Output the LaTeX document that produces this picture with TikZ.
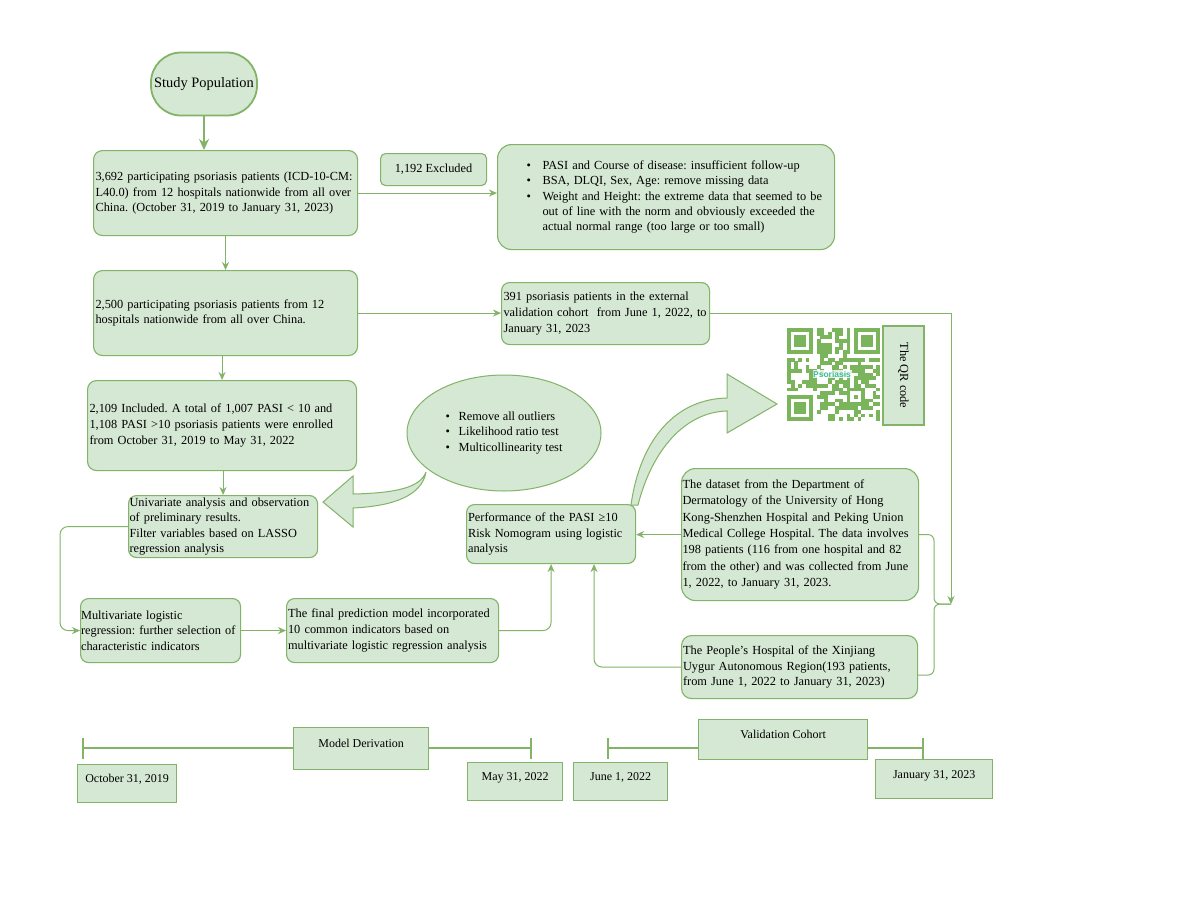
\documentclass[tikz,border=0pt]{standalone}
\usepackage{fontspec}
\setmainfont{Liberation Serif}
\newfontfamily\qrfont{Liberation Sans}
\usetikzlibrary{arrows.meta,shapes.geometric,calc}
\definecolor{gfill}{HTML}{D5E8D4}
\definecolor{gline}{HTML}{82B366}
\definecolor{qrgreen}{HTML}{7AB55C}
\definecolor{psorcol}{HTML}{3DBA98}
\frenchspacing
\newcommand{\bul}{\hspace*{27pt}\makebox[16pt][l]{\textbullet}}
\begin{document}
\begin{tikzpicture}[x=1pt,y=-1pt,
  every node/.style={font=\fontsize{12.35}{15.7}\selectfont},
  box/.style={draw=gline, fill=gfill, line width=1.1pt, rounded corners=9pt, anchor=north west, align=left, inner xsep=2pt, inner ysep=0pt},
  tbox/.style={draw=gline, fill=gfill, line width=1.3pt, anchor=north west, inner sep=0pt, align=center, text height=9pt, text depth=11pt, font=\fontsize{12}{14}\selectfont},
  conn/.style={draw=gline, line width=1pt, -{Stealth[length=8pt,width=7pt]}},
  line/.style={draw=gline, line width=1pt},
  bigarrow/.style={draw=gline, fill=gfill, line width=1pt, line join=miter},
]
\fill[white] (0,0) rectangle (1182,911);
\useasboundingbox (0,0) rectangle (1182,911);

% Study population
\node[draw=gline, fill=gfill, line width=1.8pt, rounded corners=30pt, minimum width=106pt, minimum height=63pt, inner sep=0pt, font=\fontsize{14.4}{16}\selectfont] (sp) at (204,84) {Study Population};

% boxes
\node[box, minimum width=264pt, minimum height=85pt, text width=260pt] (b1) at (93,150) {\mbox{3,692 participating psoriasis patients (ICD-10-CM:}\\\mbox{L40.0) from 12 hospitals nationwide from all over}\\\mbox{China. (October 31, 2019 to January 31, 2023)}};

\node[box, rounded corners=5pt, minimum width=106pt, minimum height=32pt, align=center] (excl) at (380,153) {1,192 Excluded};

\node[box, rounded corners=14pt, minimum width=337pt, minimum height=105pt, text width=333pt, font=\fontsize{12.35}{15.2}\selectfont] (exbox) at (497,144) {\bul\mbox{PASI and Course of disease: insufficient follow-up}\\\bul\mbox{BSA, DLQI, Sex, Age: remove missing data}\\\bul\mbox{Weight and Height: the extreme data that seemed to be}\\\hspace*{43pt}\mbox{out of line with the norm and obviously exceeded the}\\\hspace*{43pt}\mbox{actual normal range (too large or too small)}};

\node[box, minimum width=264pt, minimum height=85pt, text width=260pt] (b2) at (93,270) {\mbox{2,500 participating psoriasis patients from 12}\\\mbox{hospitals nationwide from all over China.}};

\node[box, rounded corners=8pt, minimum width=208pt, minimum height=62pt, text width=204pt] (b391) at (501,282) {\mbox{391 psoriasis patients in the external}\\\mbox{validation cohort\ \ from June 1, 2022, to}\\\mbox{January 31, 2023}};

\node[box, minimum width=269pt, minimum height=90pt, text width=265pt] (b3) at (87,380) {\mbox{2,109 Included. A total of 1,007 PASI < 10 and}\\\mbox{1,108 PASI >10 psoriasis patients were enrolled}\\\mbox{from October 31, 2019 to May 31, 2022}};

\node[box, rounded corners=8pt, minimum width=189pt, minimum height=62pt, text width=187pt, inner xsep=1pt, font=\fontsize{12.35}{15.3}\selectfont] (b4) at (128,495) {\mbox{Univariate analysis and observation}\\\mbox{of preliminary results.}\\\mbox{Filter variables based on LASSO}\\\mbox{regression analysis}};

\node[draw=gline, fill=gfill, line width=1pt, ellipse, minimum width=194pt, minimum height=116pt, inner sep=0pt, align=left] (ell) at (504,433) {\makebox[13pt][l]{\textbullet}Remove all outliers\\\makebox[13pt][l]{\textbullet}Likelihood ratio test\\\makebox[13pt][l]{\textbullet}Multicollinearity test};

\node[box, rounded corners=8pt, minimum width=160pt, minimum height=64pt, text width=159pt, inner xsep=0.5pt] (mv) at (80,598) {\mbox{Multivariate logistic}\\\mbox{regression: further selection of}\\\mbox{characteristic indicators}};

\node[box, rounded corners=8pt, minimum width=212pt, minimum height=64pt, text width=209pt, inner xsep=1.5pt] (fin) at (286,598) {\mbox{The final prediction model incorporated}\\\mbox{10 common indicators based on}\\\mbox{multivariate logistic regression analysis}};

\node[box, rounded corners=8pt, minimum width=169pt, minimum height=59pt, text width=166pt, inner xsep=1.5pt] (perf) at (466,504) {\mbox{Performance of the PASI ≥10}\\\mbox{Risk Nomogram using logistic}\\\mbox{analysis}};

\node[box, rounded corners=14pt, minimum width=237pt, minimum height=132pt, text width=235pt, inner xsep=1pt, font=\fontsize{12.35}{16.4}\selectfont] (data) at (681,468) {\mbox{The dataset from the Department of}\\\mbox{Dermatology of the University of Hong}\\\mbox{Kong-Shenzhen Hospital and Peking Union}\\\mbox{Medical College Hospital. The data involves}\\\mbox{198 patients (116 from one hospital and 82}\\\mbox{from the other) and was collected from June}\\\mbox{1, 2022, to January 31, 2023.}};

\node[box, rounded corners=10pt, minimum width=236pt, minimum height=63pt, text width=233pt, inner xsep=1.5pt] (xj) at (681,635) {\mbox{The People's Hospital of the Xinjiang}\\\mbox{Uygur Autonomous Region(193 patients,}\\\mbox{from June 1, 2022 to January 31, 2023)}};

% QR code
\pgfmathsetseed{4242}
\begin{scope}[shift={(787,328)}, x=3.72pt, y=-3.72pt]
  \foreach \i in {0,...,24}{
    \foreach \j in {0,...,24}{
      \pgfmathtruncatemacro\qskip{(((\i<8)&&(\j<8))||((\i>16)&&(\j<8))||((\i<8)&&(\j>16))||((\i>15)&&(\i<21)&&(\j>15)&&(\j<21))) ? 1 : 0}
      \pgfmathtruncatemacro\qv{rnd<0.55 ? 1 : 0}
      \ifnum\qskip=0 \ifnum\qv=1 \fill[qrgreen] (\i,\j) rectangle ++(1.02,1.02); \fi\fi
    }
  }
  \foreach \fx/\fy in {0/0,18/0,0/18}{
    \fill[qrgreen] (\fx,\fy) rectangle ++(7,7);
    \fill[white] (\fx+1,\fy+1) rectangle ++(5,5);
    \fill[qrgreen] (\fx+2,\fy+2) rectangle ++(3,3);
  }
  \fill[qrgreen] (16,16) rectangle ++(5,5);
  \fill[white] (17,17) rectangle ++(3,3);
  \fill[qrgreen] (18,18) rectangle ++(1,1);
\end{scope}
\node[fill=white, fill opacity=0.8, text opacity=1, inner sep=0.6pt, text=psorcol, font=\qrfont\bfseries\fontsize{8.5}{9}\selectfont] (qrlab) at (832,374) {Psoriasis};

\node[draw=gline, fill=gfill, line width=1.1pt, rotate=-90, minimum width=99pt, minimum height=41pt, inner sep=0pt] (qrtxt) at (903.5,375.5) {The QR code};

% connectors
\draw[conn, line width=2pt, -{Stealth[length=11pt,width=10pt]}] (sp.south) -- (sp.south |- b1.north);
\draw[conn] (b1.east) -- (b1.east -| exbox.west);
\draw[conn] (b1.south) -- (b2.north);
\draw[conn] (b2.east) -- (b2.east -| b391.west);
\draw[conn] (b2.south -| b3.north) -- (b3.north);
\draw[conn] (b3.south -| b4.north) -- (b4.north);
\coordinate (bt) at (951,604);
\draw[conn] (b391.east) -| (bt);
\draw[line, rounded corners=6pt] (data.east) -| ([xshift=-17pt]bt) -- (bt);
\draw[line, rounded corners=6pt] ([yshift=-8pt]xj.east) -| ([xshift=-17pt]bt) -- (bt);
\draw[conn, rounded corners=8pt] (b4.west) -- ++(-68,0) |- (mv.west);
\draw[conn] (mv.east) -- (fin.west);
\draw[conn, rounded corners=8pt] (fin.east) -| (perf.south);
\draw[conn, rounded corners=8pt] (xj.west) -| ([xshift=43pt]perf.south);
\draw[conn] (data.west) -- (data.west -| perf.east);

% big curved arrows
\draw[bigarrow] (426,472) .. controls (422,495) and (395,506) .. (353,508) -- (353,527) -- (323,502) -- (353,476) -- (353,494) .. controls (395,493) and (420,488) .. cycle;
\draw[bigarrow] (631,505) .. controls (640,440) and (675,399) .. (727,398) -- (727,374) -- (777,404) -- (727,433) -- (727,411) .. controls (685,412) and (652,450) .. (638,505) -- cycle;

% timeline
\node[tbox, minimum width=135pt, minimum height=42pt] (md) at (293,727) {Model Derivation};
\node[tbox, minimum width=169pt, minimum height=40pt] (vc) at (698,719) {Validation Cohort};
\node[tbox, minimum width=99pt, minimum height=38pt] (d1) at (77,764) {October 31, 2019};
\node[tbox, minimum width=95pt, minimum height=38pt] (d2) at (467,762) {May 31, 2022};
\node[tbox, minimum width=94pt, minimum height=38pt] (d3) at (573,762) {June 1, 2022};
\node[tbox, minimum width=117pt, minimum height=39pt] (d4) at (875,759) {January 31, 2023};
\coordinate (t1) at (83,748);
\coordinate (t2) at (531,748);
\coordinate (t3) at (608,748);
\coordinate (t4) at (923,748);
\draw[line, line width=1.3pt] (t1) -- (t1 -| md.west) (t2 -| md.east) -- (t2) (t3) -- (t3 -| vc.west) (t4 -| vc.east) -- (t4);
\draw[line, line width=1.3pt] ([yshift=10pt]t1) -- ([yshift=-11pt]t1);
\draw[line, line width=1.3pt] ([yshift=10pt]t2) -- ([yshift=-11pt]t2);
\draw[line, line width=1.3pt] ([yshift=10pt]t3) -- ([yshift=-11pt]t3);
\draw[line, line width=1.3pt] ([yshift=10pt]t4) -- (t4 |- d4.north);
\end{tikzpicture}
\end{document}
